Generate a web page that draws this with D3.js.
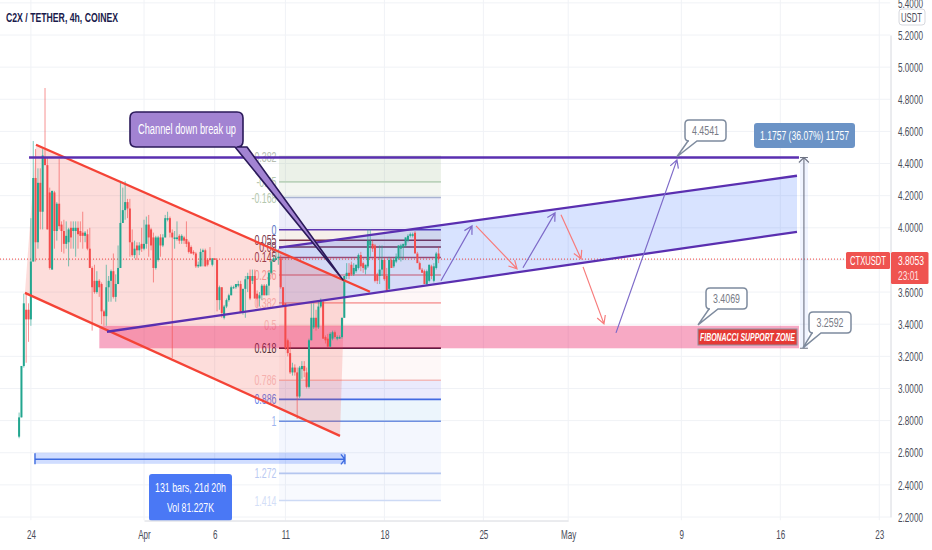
<!DOCTYPE html>
<html><head><meta charset="utf-8">
<script src="https://d3js.org/d3.v7.min.js"></script>
<style>
html,body{margin:0;padding:0;background:#fff;overflow:hidden}
svg{display:block}
text{font-family:"Liberation Sans",sans-serif}
</style></head><body><svg id="c" width="932" height="550"></svg>
<script>
// ---- DATA ----
const title = "C2X / TETHER, 4h, COINEX";
const opens = [2.70,2.82,3.14,3.49,3.49,3.43,3.79,4.31,3.91,4.28,4.10,4.44,4.39,4.22,3.74,4.22,3.98,4.15,4.02,3.98,3.90,3.91,4.00,3.98,3.98,4.00,3.98,3.97,3.95,3.96,3.87,3.75,3.67,3.60,3.67,3.65,3.48,3.45,3.63,3.67,3.73,3.57,3.65,3.75,4.03,4.11,4.16,4.12,3.91,3.83,3.89,3.86,3.90,3.87,
3.90,4.02,3.99,3.94,3.75,3.80,3.94,3.89,3.94,4.05,4.06,3.97,3.93,3.93,3.95,3.92,3.94,3.93,3.91,3.88,3.85,3.84,3.76,3.76,3.85,3.86,3.80,3.81,3.77,3.81,3.80,3.55,3.63,3.44,3.51,3.55,3.58,3.63,3.63,3.64,3.65,3.48,3.62,3.68,3.70,3.67,3.70,3.59,3.56,3.58,3.64,3.58,3.64,3.72,3.79,3.80,3.81,3.81,3.63,
3.53,3.30,3.22,3.10,3.13,3.10,2.95,3.12,3.14,3.10,3.01,3.30,3.38,3.44,3.38,3.51,3.54,3.32,3.31,3.26,3.31,3.35,3.31,3.31,3.32,3.44,3.70,3.72,3.77,3.71,3.73,3.75,3.83,3.78,3.74,3.76,3.89,3.90,3.89,3.71,3.70,3.74,3.80,3.70,3.62,3.80,3.76,3.79,3.81,3.87,3.88,3.89,3.92,3.95,3.95,3.97,3.84,3.78,3.74,3.73,3.65,3.67,3.76,3.67,3.75,3.84];
const highs = [2.85,3.14,3.59,3.60,3.53,4.06,4.54,4.49,4.37,4.37,4.49,4.87,4.44,4.25,4.23,4.23,4.16,4.43,4.04,4.05,4.04,4.00,4.04,4.04,4.04,4.04,4.04,4.10,3.98,3.99,4.00,3.76,3.77,3.73,3.68,3.66,3.49,3.77,3.70,3.74,3.84,3.71,3.89,4.29,4.25,4.29,4.18,4.18,3.99,3.92,3.91,3.91,4.00,4.05,
4.07,4.08,4.00,3.97,3.95,3.95,3.96,3.96,4.08,4.10,4.07,3.99,3.98,4.04,3.96,3.96,3.95,4.04,3.92,3.89,3.86,3.85,3.79,3.87,3.87,3.87,3.81,3.88,3.81,3.81,3.81,3.64,3.63,3.52,3.56,3.59,3.64,3.64,3.65,3.67,3.67,3.62,3.70,3.72,3.74,3.74,3.74,3.61,3.60,3.65,3.65,3.65,3.73,3.80,3.83,3.86,3.87,3.83,3.63,
3.53,3.31,3.29,3.16,3.15,3.13,3.14,3.17,3.17,3.13,3.31,3.53,3.53,3.49,3.55,3.56,3.55,3.33,3.34,3.35,3.36,3.36,3.33,3.33,3.44,3.70,3.78,3.78,3.79,3.78,3.77,3.84,3.85,3.79,3.77,3.99,3.99,3.92,3.90,3.72,3.89,3.89,3.81,3.75,3.82,3.81,3.81,3.84,3.89,3.90,3.90,3.94,3.96,3.97,3.97,3.98,3.85,3.79,3.75,3.74,3.74,3.77,3.77,3.78,3.85,3.88];
const lows = [2.69,2.82,3.13,3.16,3.29,3.39,3.79,3.79,3.87,3.99,3.99,4.39,3.99,3.74,3.74,3.87,3.92,3.99,3.85,3.84,3.87,3.76,3.87,3.87,3.82,3.87,3.91,3.87,3.91,3.86,3.75,3.36,3.59,3.59,3.57,3.40,3.39,3.39,3.54,3.54,3.56,3.54,3.65,3.75,4.03,4.05,4.06,3.82,3.82,3.81,3.80,3.83,3.85,3.86,
3.87,3.82,3.86,3.66,3.74,3.79,3.82,3.88,3.94,4.04,3.94,3.19,3.87,3.92,3.90,3.90,3.90,3.88,3.84,3.84,3.83,3.75,3.75,3.76,3.76,3.76,3.76,3.79,3.76,3.80,3.48,3.49,3.44,3.43,3.50,3.54,3.58,3.62,3.62,3.63,3.47,3.46,3.44,3.60,3.55,3.65,3.56,3.51,3.51,3.55,3.58,3.58,3.58,3.71,3.79,3.80,3.77,3.62,3.51,
3.24,3.20,3.09,3.08,3.08,2.81,2.94,3.06,3.07,3.00,3.00,3.30,3.37,3.36,3.37,3.50,3.31,3.28,3.26,3.26,3.30,3.31,3.30,3.31,3.31,3.44,3.68,3.68,3.70,3.70,3.72,3.74,3.73,3.72,3.71,3.75,3.82,3.85,3.66,3.65,3.65,3.70,3.67,3.60,3.61,3.75,3.75,3.78,3.80,3.79,3.80,3.88,3.91,3.94,3.94,3.97,3.84,3.77,3.74,3.71,3.64,3.66,3.68,3.66,3.74,3.78];
const closes = [2.82,3.14,3.53,3.43,3.43,3.79,4.31,3.91,4.28,4.10,4.45,4.39,3.99,3.75,4.23,3.98,4.15,4.01,3.98,3.90,3.95,3.99,3.94,4.00,4.00,3.96,3.95,3.95,3.97,3.87,3.75,3.63,3.60,3.67,3.63,3.48,3.45,3.63,3.67,3.73,3.57,3.65,3.75,4.03,4.11,4.16,4.12,3.91,3.83,3.87,3.86,3.89,3.87,3.90,
4.02,3.94,3.89,3.75,3.94,3.94,3.89,3.94,4.06,4.06,3.97,3.94,3.94,3.94,3.92,3.95,3.92,3.90,3.85,3.84,3.84,3.76,3.77,3.85,3.86,3.76,3.77,3.80,3.81,3.80,3.55,3.63,3.47,3.51,3.55,3.58,3.63,3.63,3.65,3.65,3.47,3.62,3.68,3.70,3.56,3.70,3.56,3.56,3.58,3.64,3.58,3.64,3.72,3.79,3.81,3.81,3.82,3.63,3.51,
3.25,3.22,3.10,3.13,3.10,2.95,3.13,3.14,3.11,3.01,3.30,3.44,3.44,3.38,3.51,3.55,3.31,3.30,3.26,3.34,3.35,3.32,3.32,3.32,3.44,3.70,3.72,3.70,3.71,3.75,3.77,3.83,3.76,3.75,3.77,3.92,3.92,3.87,3.67,3.67,3.74,3.80,3.68,3.61,3.80,3.75,3.80,3.82,3.89,3.89,3.90,3.94,3.95,3.96,3.96,3.84,3.78,3.74,3.72,3.65,3.73,3.77,3.70,3.76,3.84,3.8053];
const firstBarHours = Date.UTC(2022,2,23,4);

const yTicks = [2.2,2.4,2.6,2.8,3.0,3.2,3.4,3.6,3.8,4.0,4.2,4.4,4.6,4.8,5.0,5.2,5.4];
const xTickDates = [[2,24],[3,1],[3,6],[3,11],[3,18],[3,25],[4,1],[4,9],[4,16],[4,23]];
const xTickLabels = ["24","Apr","6","11","18","25","May","9","16","23"];

const fibLevels = [-0.382,-0.25,-0.168,0,0.055,0.09,0.145,0.236,0.382,0.5,0.618,0.786,0.886,1,1.272,1.414];
const fibTexts = ["-0.382","-0.25","-0.168","0","0.055","0.09","0.145","0.236","0.382","0.5","0.618","0.786","0.886","1","1.272","1.414"];
const fibPrice0 = 3.988, fibPrice1 = 2.796;
const fibDays = [9.55,21.0];

const redUpper = [[-7.64,4.517],[15.98,3.602]];
const redLower = [[-8.42,3.595],[13.86,2.705]];
const redFill = [[-7.64,4.517],[14.21,3.670],[13.86,2.705],[-8.42,3.595]];
const channelUpper = [[9.55,3.876],[46.18,4.324]];
const channelLower = [[-2.62,3.353],[46.18,3.975]];
const channelFill = [[9.55,3.876],[46.18,4.324],[46.18,3.975],[9.55,3.508]];
const targetLine = [[-8.13,4.4375],[46.32,4.4375]];
const zone = {d0:-3.16,d1:46.32,p0:3.390,p1:3.250};
const purpleArrows = [[[21.00,3.670],[23.20,4.012]],[[26.80,3.751],[29.07,4.093]],[[33.38,3.346],[37.69,4.423]]];
const redArrows = [[[23.48,4.012],[26.38,3.745]],[[29.49,4.081],[30.91,3.807]],[[31.05,3.757],[32.53,3.402]]];
const lastPrice = 3.8053;
const rangeDay = 46.67, rangeBand = [46.39,46.96], rangePrices = [4.4375,3.25];
const dateRange = {d0:-7.71,d1:14.21,p0:2.600,p1:2.531,mid:2.559};

// ---- SCALES ----
const day0 = Date.UTC(2022,3,1);
const x = d3.scaleUtc().domain([day0, Date.UTC(2022,4,1)]).range([144,568.2]);
const y = d3.scaleLinear().domain([2.2,5.2]).range([517,35]);
const dayX = d => x(day0 + d*864e5);
const P = p => [dayX(p[0]), y(p[1])];
const line = d3.line().x(d=>dayX(d[0])).y(d=>y(d[1]));

const svg = d3.select("#c");
const W=890.5, H=520.5;

// condense text horizontally, the reference face is much narrower than the installed ones
function fit(sel, w){ sel.attr("textLength",w).attr("lengthAdjust","spacingAndGlyphs"); return sel; }
function squeeze(sel, f){ sel.each(function(){ const t=d3.select(this); t.attr("textLength",this.getComputedTextLength()*f).attr("lengthAdjust","spacingAndGlyphs"); }); return sel; }

// grid
const grid = svg.append("g");
grid.selectAll("line.h").data(yTicks).join("line").attr("x1",0).attr("x2",W).attr("y1",d=>y(d)).attr("y2",d=>y(d)).attr("stroke","#f0f2f6").attr("stroke-width",1);
const tickTimes = xTickDates.map(d=>Date.UTC(2022,d[0],d[1]));
grid.selectAll("line.v").data(tickTimes).join("line").attr("y1",0).attr("y2",H).attr("x1",d=>x(d)).attr("x2",d=>x(d)).attr("stroke","#f0f2f6").attr("stroke-width",1);

// fib
const fibY = l => y(fibPrice0 + l*(fibPrice1-fibPrice0));
const fibFills = ["rgba(120,160,100,.15)","rgba(120,160,100,.09)","rgba(90,90,220,.11)","rgba(180,130,90,.12)","rgba(120,40,70,.12)","rgba(120,90,130,.08)","rgba(200,120,120,.08)","rgba(240,120,120,.06)","rgba(240,120,120,.05)","rgba(240,120,120,.05)","rgba(240,120,120,.05)","rgba(90,90,230,.13)","rgba(100,170,230,.12)","rgba(70,120,240,.06)","rgba(70,120,240,.035)"];
const fibLines = ["#c8d6c0","#bcd3bc","#a9b3d2","#5e35b1","#7b2d43","#7b2d43","#b0455a","#ee8a8a","#f7a8a8","#fbdcdc","#4a1d3d","#f2b9b9","#4169e1","#6f8fe0","#b4c6ef","#cddaf5"];
const fibLabelCols = ["#b5bdb0","#b4c8ae","#b4c8ae","#5e7ac9","#7b3b4f","#7b3b4f","#8a3b4f","#f3a5a5","#f6bcbc","#f6c8c8","#2a2a35","#f6c8c8","#5f7ee8","#9db4ef","#b9c9f2","#d3def7"];
const fx0=dayX(fibDays[0]), fx1=dayX(fibDays[1]);
const fib = svg.append("g");
fib.selectAll("rect").data(fibLevels.slice(0,-1)).join("rect")
  .attr("x",fx0).attr("width",fx1-fx0).attr("y",d=>fibY(d))
  .attr("height",(d,i)=>fibY(fibLevels[i+1])-fibY(d)).attr("fill",(d,i)=>fibFills[i]);
fib.selectAll("line").data(fibLevels).join("line").attr("x1",fx0).attr("x2",fx1)
  .attr("y1",d=>fibY(d)).attr("y2",d=>fibY(d)).attr("stroke",(d,i)=>fibLines[i]).attr("stroke-width",1.6);
squeeze(fib.selectAll("text").data(fibLevels).join("text").attr("x",fx0-2.5).attr("y",d=>fibY(d)+5)
  .attr("text-anchor","end").attr("font-size",14).attr("fill",(d,i)=>fibLabelCols[i]).text((d,i)=>fibTexts[i]),0.63);

// channel fills and zone
svg.append("path").attr("d",line(channelFill)+"Z").attr("fill","rgba(41,98,255,.18)");
svg.append("path").attr("d",line(redFill)+"Z").attr("fill","rgba(244,67,54,.18)");
svg.append("rect").attr("x",dayX(zone.d0)).attr("width",dayX(zone.d1)-dayX(zone.d0)).attr("y",y(zone.p0)).attr("height",y(zone.p1)-y(zone.p0)).attr("fill","rgba(233,30,99,.38)");

// last price dotted
svg.append("line").attr("x1",0).attr("x2",W).attr("y1",y(lastPrice)).attr("y2",y(lastPrice)).attr("stroke","#f0403c").attr("stroke-dasharray","1 2").attr("stroke-width",1);

// candles
const bars = closes.map((c,i)=>({t:firstBarHours+i*4*36e5,o:opens[i],h:highs[i],l:lows[i],c}));
const col = d => d.c>=d.o ? "#22a68f" : "#f44c4c";
const cg = svg.append("g");
cg.selectAll("line").data(bars).join("line").attr("x1",d=>x(d.t)).attr("x2",d=>x(d.t)).attr("y1",d=>y(d.h)).attr("y2",d=>y(d.l)).attr("stroke",col).attr("stroke-width",1).attr("opacity",.6);
cg.selectAll("rect").data(bars).join("rect").attr("x",d=>x(d.t)-1).attr("width",2).attr("y",d=>y(Math.max(d.o,d.c))).attr("height",d=>Math.max(1,Math.abs(y(d.o)-y(d.c)))).attr("fill",col);

// trend lines
[redUpper,redLower].forEach(l=>svg.append("path").attr("d",line(l)).attr("stroke","#f44336").attr("stroke-width",2.3).attr("fill","none"));
[channelUpper,channelLower,targetLine].forEach(l=>svg.append("path").attr("d",line(l)).attr("stroke","#5a2fb0").attr("stroke-width",2.3).attr("fill","none"));

// arrows
function arrow(seg,color){
  const [a,b]=[P(seg[0]),P(seg[1])]; const ang=Math.atan2(b[1]-a[1],b[0]-a[0]); const L=9,S=.5;
  const h=s=>[b[0]-L*Math.cos(ang+s*S),b[1]-L*Math.sin(ang+s*S)];
  svg.append("path").attr("d",`M${a}L${b}M${h(1)}L${b}L${h(-1)}`).attr("stroke",color).attr("stroke-width",1.2).attr("fill","none");
}
purpleArrows.forEach(s=>arrow(s,"#7e6bc9"));
redArrows.forEach(s=>arrow(s,"#f77c7c"));

// price range
svg.append("rect").attr("x",dayX(rangeBand[0])).attr("width",dayX(rangeBand[1])-dayX(rangeBand[0])).attr("y",y(rangePrices[0])).attr("height",y(rangePrices[1])-y(rangePrices[0])).attr("fill","rgba(41,98,255,.07)");
const rx=dayX(rangeDay), ry0=y(rangePrices[0]), ry1=y(rangePrices[1]);
svg.append("path").attr("d",`M${rx},${ry0}L${rx},${ry1}M${rx-5},${ry0+5}L${rx},${ry0}L${rx+5},${ry0+5}M${rx-4},${ry0}L${rx+4},${ry0}M${rx-4},${ry1}L${rx+4},${ry1}`).attr("stroke","#6f7484").attr("stroke-width",1.1).attr("fill","none");

// FIB zone label
svg.append("rect").attr("x",698).attr("y",329).attr("width",99).attr("height",16).attr("fill","#e53935").attr("stroke","#8d8f9c").attr("stroke-width",1);
fit(svg.append("text").attr("x",747.5).attr("y",341).attr("text-anchor","middle").attr("font-size",11.5).attr("font-weight","bold").attr("font-style","italic").attr("fill","#fff").text("FIBONACCI SUPPORT ZONE"),95);

// date range
const dx0=dayX(dateRange.d0), dx1=dayX(dateRange.d1), dmy=y(dateRange.mid);
svg.append("rect").attr("x",dx0).attr("width",dx1-dx0).attr("y",y(dateRange.p0)).attr("height",y(dateRange.p1)-y(dateRange.p0)).attr("fill","rgba(41,98,255,.22)");
svg.append("path").attr("d",`M${dx0},${dmy-6}L${dx0},${dmy+5}M${dx0},${dmy}L${dx1},${dmy}M${dx1-4},${dmy-5}L${dx1},${dmy}L${dx1-4},${dmy+5}M${dx1},${dmy-5}L${dx1},${dmy+5}`).attr("stroke","#3d6be0").attr("stroke-width",1.4).attr("fill","none");
svg.append("rect").attr("x",149).attr("y",474).attr("width",83).attr("height",47).attr("rx",3).attr("fill","#4a78f5");
fit(svg.append("text").attr("x",190.5).attr("y",491.5).attr("text-anchor","middle").attr("font-size",12.5).attr("fill","#fff").text("131 bars, 21d 20h"),71);
fit(svg.append("text").attr("x",190.5).attr("y",511.5).attr("text-anchor","middle").attr("font-size",12.5).attr("fill","#fff").text("Vol 81.227K"),47);

// callouts
function callout(anchor,bx,by,bw,bh,txt,tw){
  const a=P(anchor);
  const tipBase = [[bx+tw,by+bh],[bx+tw+9,by+bh]];
  svg.append("path").attr("d",`M${bx+4},${by}H${bx+bw-4}Q${bx+bw},${by} ${bx+bw},${by+4}V${by+bh-4}Q${bx+bw},${by+bh} ${bx+bw-4},${by+bh}H${tipBase[1][0]}L${a}L${tipBase[0]}H${bx+4}Q${bx},${by+bh} ${bx},${by+bh-4}V${by+4}Q${bx},${by} ${bx+4},${by}Z`)
    .attr("fill","#fff").attr("stroke","#7e8b9e").attr("stroke-width",1.5);
  fit(svg.append("text").attr("x",bx+bw/2).attr("y",by+bh/2+4.5).attr("text-anchor","middle").attr("font-size",12.5).attr("fill","#787b86").text(txt),27);
}
callout([37.69,4.442],685,120,41,21,"4.4541",3);
callout([39.18,3.396],706,288,41,21,"3.4069",3);
callout([46.60,3.253],809,312,42,21,"3.2592",3);

// purple callout
const tip=P([14.07,3.676]);
svg.append("path").attr("d",`M136,112H237Q243,112 243,118V141Q243,147 237,147H247L${tip}L235,147H136Q130,147 130,141V118Q130,112 136,112Z`)
  .attr("fill","#a283d2").attr("stroke","#2b1a5a").attr("stroke-width",1.6).attr("stroke-linejoin","round");
fit(svg.append("text").attr("x",187).attr("y",134).attr("text-anchor","middle").attr("font-size",14).attr("fill","#fff").text("Channel down break up"),98);

// blue range label
svg.append("rect").attr("x",754).attr("y",123).attr("width",101).attr("height",25).attr("rx",3).attr("fill","#6b93c6");
fit(svg.append("text").attr("x",804.5).attr("y",140).attr("text-anchor","middle").attr("font-size",13).attr("fill","#fff").text("1.1757 (36.07%) 11757"),89);

// axes panel
svg.append("rect").attr("x",W).attr("y",0).attr("width",932-W).attr("height",550).attr("fill","#fff");
svg.append("rect").attr("x",0).attr("y",H).attr("width",932).attr("height",30).attr("fill","#fff");
const yAxis = d3.axisRight(y).tickValues(yTicks).tickFormat(d3.format(".4f")).tickSize(0).tickPadding(7.5);
const gy = svg.append("g").attr("transform",`translate(${W},0)`).call(yAxis);
gy.select(".domain").attr("stroke","#d6d8de");
fit(gy.selectAll("text").attr("font-size",13).attr("fill","#4a4d5a").style("font-family",'"Liberation Sans",sans-serif'),25);
const xAxis = d3.axisBottom(x).tickValues(tickTimes).tickFormat((d,i)=>xTickLabels[i]).tickSize(0).tickPadding(9);
const gx = svg.append("g").attr("transform",`translate(0,${H})`).call(xAxis);
gx.select(".domain").attr("stroke","#d6d8de");
squeeze(gx.selectAll("text").attr("font-size",13).attr("fill","#4a4d5a").style("font-family",'"Liberation Sans",sans-serif'),0.62);

// USDT box
svg.append("rect").attr("x",899).attr("y",9).attr("width",26).attr("height",16).attr("rx",3).attr("fill","#fff").attr("stroke","#d6d8de");
fit(svg.append("text").attr("x",911.5).attr("y",21.5).attr("text-anchor","middle").attr("font-size",12.5).attr("fill","#4a4d5a").text("USDT"),21);

// last price labels
svg.append("rect").attr("x",846).attr("y",252).attr("width",44).attr("height",17).attr("rx",1.5).attr("fill","#ef5350");
fit(svg.append("text").attr("x",868).attr("y",265).attr("text-anchor","middle").attr("font-size",12.5).attr("fill","#fff").text("CTXUSDT"),36);
svg.append("rect").attr("x",891).attr("y",252).attr("width",37.5).attr("height",32).attr("rx",1.5).attr("fill","#ef5350");
fit(svg.append("text").attr("x",898).attr("y",265).attr("font-size",13).attr("fill","#fff").text(d3.format(".4f")(lastPrice)),26);
fit(svg.append("text").attr("x",898).attr("y",280).attr("font-size",13).attr("fill","#fde4e3").text("23:01"),21);

// title
fit(svg.append("text").attr("x",6).attr("y",22).attr("font-size",13.5).attr("font-weight","bold").attr("fill","#1a1a4b").text(title),112);
</script></body></html>
